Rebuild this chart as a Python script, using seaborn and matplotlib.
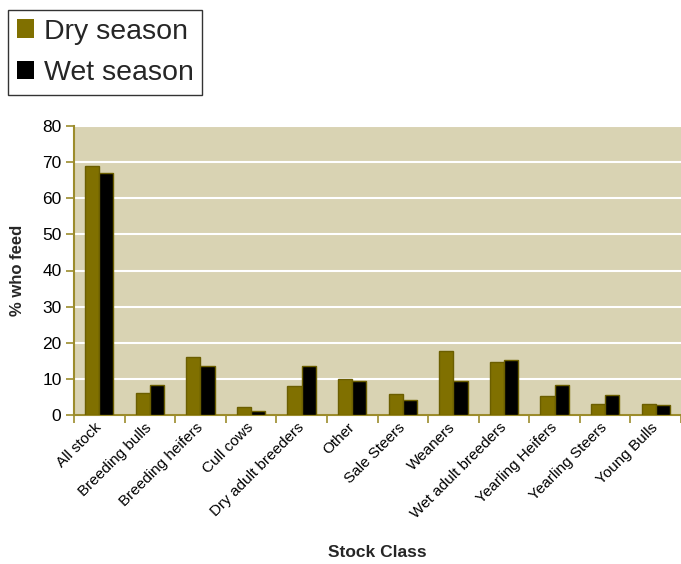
import matplotlib
matplotlib.use("Agg")
import matplotlib.pyplot as plt
from matplotlib.patches import Patch
from matplotlib.ticker import FixedLocator
from matplotlib.transforms import ScaledTranslation
import seaborn as sns
import pandas as pd

categories = ["All stock", "Breeding bulls", "Breeding heifers", "Cull cows",
              "Dry adult breeders", "Other", "Sale Steers", "Weaners",
              "Wet adult breeders", "Yearling Heifers", "Yearling Steers",
              "Young Bulls"]
dry_season = [69, 6, 16, 2.1, 8, 10.1, 5.9, 17.6, 14.6, 5.2, 3, 3]
wet_season = [67, 8.2, 13.6, 1.1, 13.6, 9.4, 4.1, 9.4, 15.1, 8.2, 5.4, 2.9]
series = ["Dry season", "Wet season"]
y_ticks = [0, 10, 20, 30, 40, 50, 60, 70, 80]

df = pd.DataFrame({
    "Stock Class": categories * 2,
    "value": dry_season + wet_season,
    "season": [series[0]] * len(categories) + [series[1]] * len(categories),
})

sns.set_theme(style="white")
plt.rcParams["font.family"] = ["Liberation Sans", "DejaVu Sans"]

olive = "#807000"
axis_col = "#9c8c2c"
palette = {series[0]: olive, series[1]: "#000000"}

fig = plt.figure(figsize=(6.81, 5.64), dpi=100)
ax = fig.add_axes([74 / 681, 1 - 415 / 564, 1 - 74 / 681, (415 - 126) / 564])

sns.barplot(data=df, x="Stock Class", y="value", hue="season", palette=palette,
            order=categories, hue_order=series, width=0.56, gap=0,
            edgecolor="#6b5e00", linewidth=1.0, saturation=1, ax=ax,
            legend=False, zorder=3)

ax.set_facecolor("#d9d3b3")
ax.set_ylim(0, 80)
ax.set_xlim(-0.5, len(categories) - 0.5)
ax.set_yticks(y_ticks)
ax.yaxis.grid(True, color="white", linewidth=1.5, zorder=0)
ax.xaxis.grid(False)
ax.set_axisbelow(True)

for side in ["top", "right"]:
    ax.spines[side].set_visible(False)
for side in ["left", "bottom"]:
    ax.spines[side].set_color(axis_col)
    ax.spines[side].set_linewidth(1.5)

ax.tick_params(axis="y", which="major", direction="out", length=6, width=1.2,
               color=axis_col, labelsize=12.5, labelcolor="black", pad=3, left=True)
ax.tick_params(axis="x", which="major", length=0, labelsize=11, labelcolor="black", pad=4)
ax.xaxis.set_minor_locator(FixedLocator([i + 0.5 for i in range(-1, len(categories))]))
ax.tick_params(axis="x", which="minor", direction="out", length=6, width=1.2,
               color=axis_col, bottom=True)
ax.set_xticks(range(len(categories)))
ax.set_xticklabels(categories, rotation=45, ha="right", rotation_mode="anchor")
shift = ScaledTranslation(-5 / 100, 0, fig.dpi_scale_trans)
for lbl in ax.get_xticklabels():
    lbl.set_transform(lbl.get_transform() + shift)

ax.set_ylabel("% who feed", fontsize=12, fontweight="bold", labelpad=12)
ax.set_xlabel("Stock Class", fontsize=12.5, fontweight="bold")
ax.xaxis.set_label_coords(0.5, -(545 - 415) / 289)
ax.xaxis.label.set_va("top")

handles = [Patch(facecolor=palette[s], edgecolor="none") for s in series]
leg = fig.legend(handles, series, loc="upper left",
                 bbox_to_anchor=(8 / 681, 1 - 10 / 564), fontsize=20.5,
                 frameon=True, fancybox=False, edgecolor="black",
                 handlelength=0.6, handleheight=0.6, handletextpad=0.35,
                 labelspacing=0.55, borderpad=0.3, borderaxespad=0)
leg.get_frame().set_linewidth(1.0)

fig.savefig("out.png", dpi=100)
